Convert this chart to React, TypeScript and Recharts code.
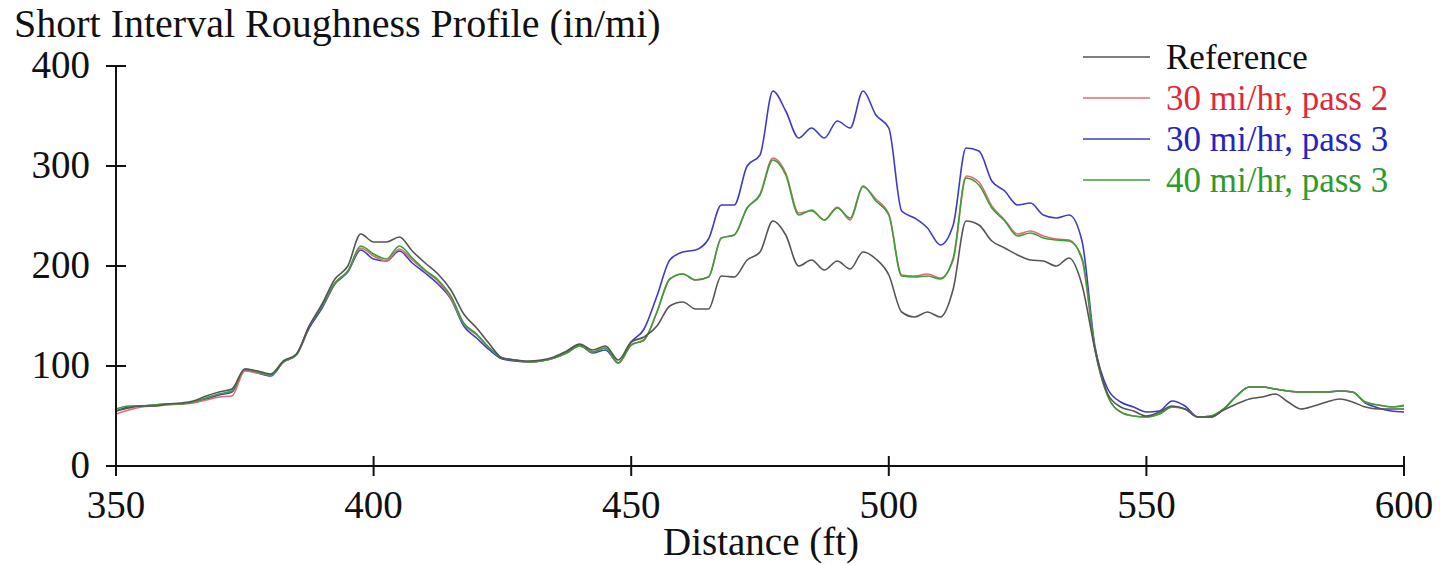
import React from 'react'
import { LineChart, Line, XAxis, YAxis } from 'recharts'

// distance along the section, ft
const distance = [
  350, 352.5, 355, 357.5, 360, 362.5, 365, 367.5, 370, 372.5,
  375, 377.5, 380, 382.5, 385, 387.5, 390, 392.5, 395, 397.5,
  400, 402.5, 405, 407.5, 410, 412.5, 415, 417.5, 420, 422.5,
  425, 427.5, 430, 432.5, 435, 437.5, 440, 442.5, 445, 447.5,
  450, 452.5, 455, 457.5, 460, 462.5, 465, 467.5, 470, 472.5,
  475, 477.5, 480, 482.5, 485, 487.5, 490, 492.5, 495, 497.5,
  500, 502.5, 505, 507.5, 510, 512.5, 515, 517.5, 520, 522.5,
  525, 527.5, 530, 532.5, 535, 537.5, 540, 542.5, 545, 547.5,
  550, 552.5, 555, 557.5, 560, 562.5, 565, 567.5, 570, 572.5,
  575, 577.5, 580, 582.5, 585, 587.5, 590, 592.5, 595, 597.5,
  600,
]

const reference = [
  55, 58, 60, 60, 62, 63, 65, 70, 74, 77,
  97, 95, 92, 105, 112, 140, 162, 187, 200, 232,
  224, 224, 229, 215, 203, 192, 176, 152, 138, 122,
  108, 106, 105, 106, 109, 115, 122, 116, 120, 106,
  124, 129, 140, 160, 164, 157, 157, 190, 189, 206,
  214, 245, 231, 200, 206, 196, 205, 197, 214, 207,
  191, 154, 149, 154, 149, 177, 245, 241, 225, 218,
  211, 206, 205, 200, 208, 181, 117, 72, 59, 55,
  50, 54, 60, 57, 49, 49, 56, 62, 67, 69,
  72, 64, 57, 60, 64, 67, 64, 59, 57, 57,
  57,
]

const mph30pass2 = [
  52, 56, 59, 60, 61, 62, 63, 66, 69, 70,
  95, 93, 91, 104, 111, 140, 160, 183, 195, 218,
  210, 205, 217, 206, 195, 185, 168, 142, 131, 118,
  108, 106, 104, 105, 108, 113, 120, 114, 118, 103,
  121, 126, 154, 187, 192, 186, 189, 228, 231, 258,
  272, 308, 293, 253, 255, 246, 259, 246, 279, 267,
  252, 191, 190, 192, 188, 206, 290, 284, 260, 246,
  232, 235, 230, 227, 226, 206, 117, 70, 54, 50,
  49, 52, 59, 57, 49, 50, 57, 70, 79, 79,
  77, 75, 74, 74, 74, 75, 74, 64, 61, 59,
  61,
]

const mph30pass3 = [
  55, 59, 60, 61, 62, 62, 64, 67, 71, 74,
  96, 93, 90, 104, 111, 138, 158, 182, 194, 216,
  207, 205, 215, 203, 193, 182, 167, 140, 128, 116,
  107, 105, 104, 105, 108, 114, 121, 113, 116, 103,
  124, 137, 170, 206, 214, 216, 227, 261, 261, 300,
  311, 375, 355, 328, 338, 328, 345, 338, 375, 351,
  338, 255, 248, 238, 221, 241, 318, 315, 285, 275,
  261, 263, 251, 248, 251, 225, 120, 77, 64, 59,
  54, 55, 65, 60, 49, 49, 57, 70, 79, 79,
  77, 75, 74, 74, 74, 75, 74, 63, 58, 55,
  54,
]

const mph40pass3 = [
  57, 60, 60, 61, 62, 62, 64, 68, 72, 75,
  97, 94, 91, 104, 111, 140, 160, 183, 195, 220,
  212, 207, 220, 208, 196, 186, 170, 143, 132, 118,
  108, 106, 104, 105, 108, 113, 120, 114, 118, 103,
  121, 126, 154, 187, 192, 186, 189, 228, 231, 258,
  271, 306, 291, 251, 256, 246, 258, 248, 280, 265,
  251, 190, 189, 190, 187, 208, 288, 281, 258, 245,
  230, 233, 228, 226, 225, 208, 117, 70, 54, 50,
  49, 52, 59, 57, 49, 50, 57, 70, 79, 79,
  77, 75, 74, 74, 74, 75, 74, 64, 61, 59,
  60,
]

const xTicks = [350, 400, 450, 500, 550, 600]
const yTicks = [0, 100, 200, 300, 400]

const series = [
  { key: 'p3', name: '30 mi/hr, pass 3', color: '#3c3cc8', text: '#2424c0' },
  { key: 'p2', name: '30 mi/hr, pass 2', color: '#e46a70', text: '#e0283a' },
  { key: 'p40', name: '40 mi/hr, pass 3', color: '#38a038', text: '#2c9a2c' },
  { key: 'ref', name: 'Reference', color: '#555555', text: '#111111' },
]

const legendOrder = ['ref', 'p2', 'p3', 'p40']

const data = distance.map((d, i) => ({
  d,
  ref: reference[i],
  p2: mph30pass2[i],
  p3: mph30pass3[i],
  p40: mph40pass3[i],
}))

const font = '"Liberation Serif", "Times New Roman", serif'

const YTick = (props: any) => {
  const { x, y, payload } = props
  return (
    <g>
      <line x1={x + 16} x2={x + 36} y1={y} y2={y} stroke="#111" strokeWidth={2} />
      <text x={x} y={y} dy={12} textAnchor="end" fontFamily={font} fontSize={39} fill="#111">
        {payload.value}
      </text>
    </g>
  )
}

const XTick = (props: any) => {
  const { x, y, payload } = props
  return (
    <g>
      <line x1={x} x2={x} y1={y - 10} y2={y + 10} stroke="#111" strokeWidth={2} />
      <text x={x} y={y + 52} textAnchor="middle" fontFamily={font} fontSize={39} fill="#111">
        {payload.value}
      </text>
    </g>
  )
}

export default function App() {
  return (
    <div style={{ position: 'absolute', left: 0, top: 0, width: 1440, height: 565, background: '#fff' }}>
      <LineChart
        width={1440}
        height={565}
        data={data}
        margin={{ top: 66, right: 36, bottom: 0, left: 0 }}
      >
        <XAxis
          dataKey="d"
          type="number"
          domain={[350, 600]}
          ticks={xTicks}
          allowDataOverflow
          height={99}
          tickSize={0}
          tickMargin={0}
          tickLine={false}
          axisLine={{ stroke: '#111', strokeWidth: 2 }}
          tick={<XTick />}
          interval={0}
        />
        <YAxis
          type="number"
          domain={[0, 400]}
          ticks={yTicks}
          width={116}
          tickSize={0}
          tickMargin={26}
          tickLine={false}
          axisLine={{ stroke: '#111', strokeWidth: 2 }}
          tick={<YTick />}
          interval={0}
        />
        {series.map((s) => (
          <Line
            key={s.key}
            type="monotone"
            dataKey={s.key}
            name={s.name}
            stroke={s.color}
            strokeWidth={1.6}
            dot={false}
            activeDot={false}
            isAnimationActive={false}
          />
        ))}
      </LineChart>
      <svg
        width={1440}
        height={565}
        style={{ position: 'absolute', left: 0, top: 0, pointerEvents: 'none' }}
      >
        <text x={14} y={37} fontFamily={font} fontSize={40} fill="#111">
          Short Interval Roughness Profile (in/mi)
        </text>
        <text x={761} y={555} textAnchor="middle" fontFamily={font} fontSize={39} fill="#111">
          Distance (ft)
        </text>
        {legendOrder.map((k, i) => {
          const s = series.find((v) => v.key === k)!
          const y = 57 + i * 41
          return (
            <g key={k}>
              <line x1={1083} x2={1150} y1={y} y2={y} stroke={s.color} strokeWidth={1.6} />
              <text x={1166} y={y + 12} fontFamily={font} fontSize={35} fill={s.text}>
                {s.name}
              </text>
            </g>
          )
        })}
      </svg>
    </div>
  )
}
